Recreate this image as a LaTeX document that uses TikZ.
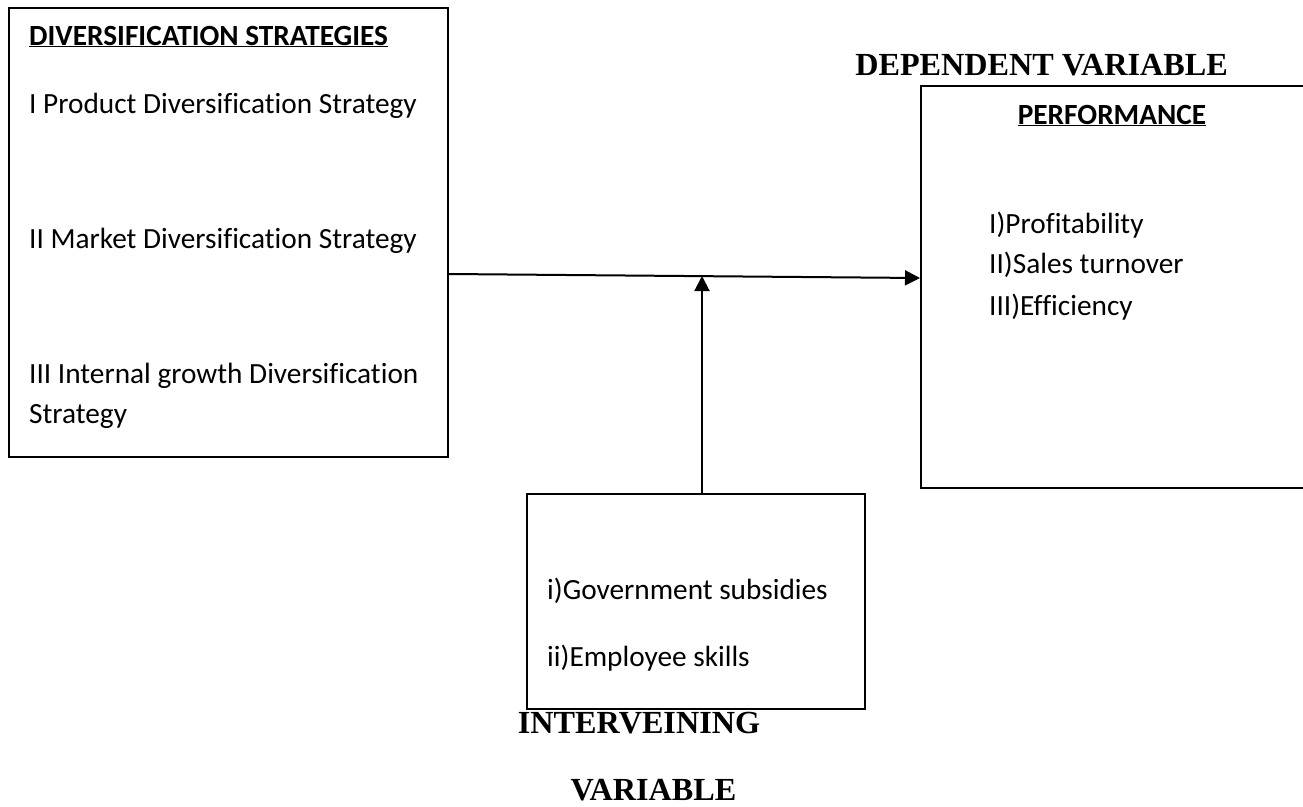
\documentclass[tikz,border=0pt]{standalone}
\usepackage{fontspec}
\setmainfont{Carlito}[Ligatures=NoCommon]
\newfontfamily\timesfont{Liberation Serif}
\usepackage{tikz}
\usetikzlibrary{arrows.meta, calc}
\tikzset{
	boxline/.style={draw, line width=2pt, inner sep=0pt, anchor=north west}
}
\tikzset{
	itemtext/.style={font=\fontsize{29.3}{35}\selectfont, anchor=base west, inner sep=0pt}
}
\tikzset{
	headtext/.style={font=\fontsize{32.2}{39}\selectfont\timesfont\bfseries, anchor=base, inner sep=0pt},
	arrowline/.style={line width=2pt, -{Triangle[length=15pt,width=15pt]}}
}

\begin{document}
\begin{tikzpicture}[x=1pt, y=-1pt]
      \useasboundingbox (0,0) rectangle (1303,806);
      % boxes
      \node[boxline, minimum width=439pt, minimum height=449pt] (strat) at (8,7) {};
      \node[boxline, minimum width=400pt, minimum height=402pt] (perf) at (920,85) {};
      \node[boxline, minimum width=338pt, minimum height=215pt] (interv) at (526,493) {};
      % left box text
      \node[itemtext] (strathead) at (29,45) {\bfseries\underline{DIVERSIFICATION STRATEGIES}};
      \node[itemtext] (s1) at (29,113) {I Product Diversification Strategy};
      \node[itemtext] (s2) at (29,248) {II Market Diversification Strategy};
      \node[itemtext] (s3) at (29,383) {III Internal growth Diversification};
      \node[itemtext] (s3b) at (29,423) {Strategy};
      % right box text
      \node[headtext] (dep) at (1041.5,75) {DEPENDENT VARIABLE};
      \node[itemtext, anchor=base] (perfhead) at (1112,124) {\bfseries\underline{PERFORMANCE}};
      \foreach \y/\l/\n in {233/I)Profitability/p1, 273/II)Sales turnover/p2, 315/III)Efficiency/p3}
        \node[itemtext] (\n) at (989,\y) {\l};
      % bottom box text
      \node[itemtext] (g1) at (547,599) {i)Government subsidies};
      \node[itemtext] (g2) at (547,666) {ii)Employee skills};
      \node[headtext] (inthead) at (639,733) {INTERVEINING};
      \node[headtext] (varhead) at (653.5,800) {VARIABLE};
      % connectors
      \coordinate (join) at (702,276);
      \draw[arrowline] (strat.east |- 0,274) -- (perf.west |- 0,278);
      \draw[arrowline] (interv.north -| join) -- (join);
    \end{tikzpicture}
\end{document}
